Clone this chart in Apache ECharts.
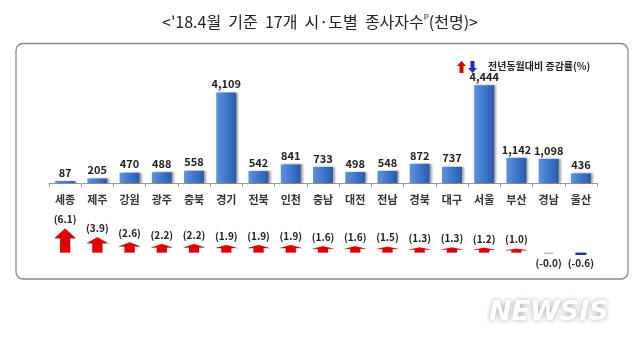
<!DOCTYPE html>
<html><head><meta charset="utf-8">
<script src="https://cdn.jsdelivr.net/npm/echarts@6/dist/echarts.min.js"></script>
<style>html,body{margin:0;padding:0;background:#fff}#c{width:640px;height:342px}</style>
</head><body><div id="c"></div>
<script>
const categories = ['세종','제주','강원','광주','충북','경기','전북','인천','충남','대전','전남','경북','대구','서울','부산','경남','울산'];
const workers = [87,205,470,488,558,4109,542,841,733,498,548,872,737,4444,1142,1098,436];
const changeRate = [6.1,3.9,2.6,2.2,2.2,1.9,1.9,1.9,1.6,1.6,1.5,1.3,1.3,1.2,1.0,-0.04,-0.6];
const titleText = "<'18.4월  기준  17개  시·도별  종사자수";
const legendText = '전년동월대비 증감률(%)';

const FONT = '"Noto Sans CJK KR", "Noto Sans", sans-serif';
const chart = echarts.init(document.getElementById('c'), null, {renderer:'canvas'});

const barGrad = new echarts.graphic.LinearGradient(0,0,1,0,[
  {offset:0,color:'#5b93e0'},{offset:0.5,color:'#3f78cc'},{offset:1,color:'#2c5aa6'}]);
const redGrad = new echarts.graphic.LinearGradient(0,0,1,0,[
  {offset:0,color:'#b00000'},{offset:0.35,color:'#e60000'},{offset:0.65,color:'#e00000'},{offset:1,color:'#a00000'}]);

function renderArrow(params, api){
  const v = api.value(1);
  const base = api.coord([api.value(0), 0]);
  const tip = api.coord([api.value(0), v]);
  const cx = base[0];
  const children = [];
  const label = '(' + v.toFixed(1) + ')';
  if (v >= 0) {
    const h = base[1] - tip[1];
    const hw = 10.5, sw = 5;
    const headBase = tip[1] + h * 0.4;
    children.push({type:'polygon', shape:{points:[
      [cx, tip[1]],[cx+hw, headBase],[cx+sw, headBase],[cx+sw, base[1]],
      [cx-sw, base[1]],[cx-sw, headBase],[cx-hw, headBase]]},
      style:{fill:redGrad, stroke:'rgba(140,0,0,0.5)', lineWidth:0.5}});
    children.push({type:'text', style:{text:label, x:cx, y:tip[1]-9, align:'center', verticalAlign:'middle',
      font:'bold 10px ' + FONT, fill:'#222'}});
  } else {
    const h = Math.max(1.2, tip[1] - base[1]);
    const tiny = Math.abs(v) < 0.05;
    children.push({type:'rect', shape:{x:cx-(tiny?4.5:5.5), y:base[1], width:tiny?9:11, height:h},
      style:{fill: tiny ? '#a4aad2' : '#1c2a9c'}});
    children.push({type:'text', style:{text:label, x:cx, y:base[1]+11, align:'center', verticalAlign:'middle',
      font:'bold 10px ' + FONT, fill:'#222'}});
  }
  return {type:'group', children};
}

const option = {
  backgroundColor:'#fff',
  animation:false,
  textStyle:{fontFamily:FONT},
  grid:[
    {left:49, right:43, top:73, bottom:159},
    {left:49, right:43, top:221, bottom:81.5}
  ],
  xAxis:[
    {type:'category', gridIndex:0, data:categories,
     axisLine:{lineStyle:{color:'#9a9a9a'}},
     axisTick:{show:true, length:4, lineStyle:{color:'#9a9a9a'}},
     axisLabel:{margin:11, fontSize:11, color:'#333', fontFamily:FONT, fontWeight:'bold'}},
    {type:'category', gridIndex:1, data:categories, show:false}
  ],
  yAxis:[
    {type:'value', gridIndex:0, min:0, max:5000, show:false, splitLine:{show:false}},
    {type:'value', gridIndex:1, min:-2, max:8, show:false, splitLine:{show:false}}
  ],
  series:[
    {type:'bar', xAxisIndex:0, yAxisIndex:0, data:workers, barWidth:20,
     itemStyle:{color:barGrad, shadowColor:'rgba(0,0,0,0.35)', shadowBlur:2, shadowOffsetX:2, shadowOffsetY:0},
     label:{show:true, position:'top', distance:3, fontSize:11, fontWeight:'bold', color:'#222', fontFamily:FONT,
       formatter:p=>p.value.toLocaleString('en-US')}},
    {type:'custom', xAxisIndex:1, yAxisIndex:1, renderItem:renderArrow,
     data:changeRate.map((v,i)=>[i,v])}
  ],
  graphic:[
    {type:'rect', shape:{x:16, y:43.5, width:612, height:235.5, r:7}, z:-1,
     style:{fill:'none', stroke:'#8a8a8a', lineWidth:1.3}},
    {type:'text', left:'center', top:13, style:{
      text:'{t|' + titleText + '}{s|P}{t|(천명)>}',
      rich:{t:{fontSize:16, fontFamily:FONT, fill:'#222'}, s:{fontSize:8, fontFamily:FONT, fill:'#222', verticalAlign:'top', padding:[0,0,9,0]}}}},
    {type:'polygon', shape:{points:[[461.5,61],[466,66],[463.5,66],[463.5,73],[459.5,73],[459.5,66],[457,66]]}, style:{fill:'#d40000'}},
    {type:'polygon', shape:{points:[[472.5,73],[477,68],[474.5,68],[474.5,61],[470.5,61],[470.5,68],[468,68]]}, style:{fill:'#1530c8'}},
    {type:'text', left:488, top:61, style:{text:legendText, fontSize:10, fontWeight:'bold', fontFamily:FONT, fill:'#222'}},
    {type:'text', left:489, top:299, style:{text:'NEWSIS', fontSize:27, fontWeight:'bold', fontStyle:'italic',
      fontFamily:'"DejaVu Sans", sans-serif', fill:'#ffffff', textShadowColor:'rgba(0,0,0,0.35)', textShadowBlur:5}}
  ]
};
chart.setOption(option);
</script></body></html>
